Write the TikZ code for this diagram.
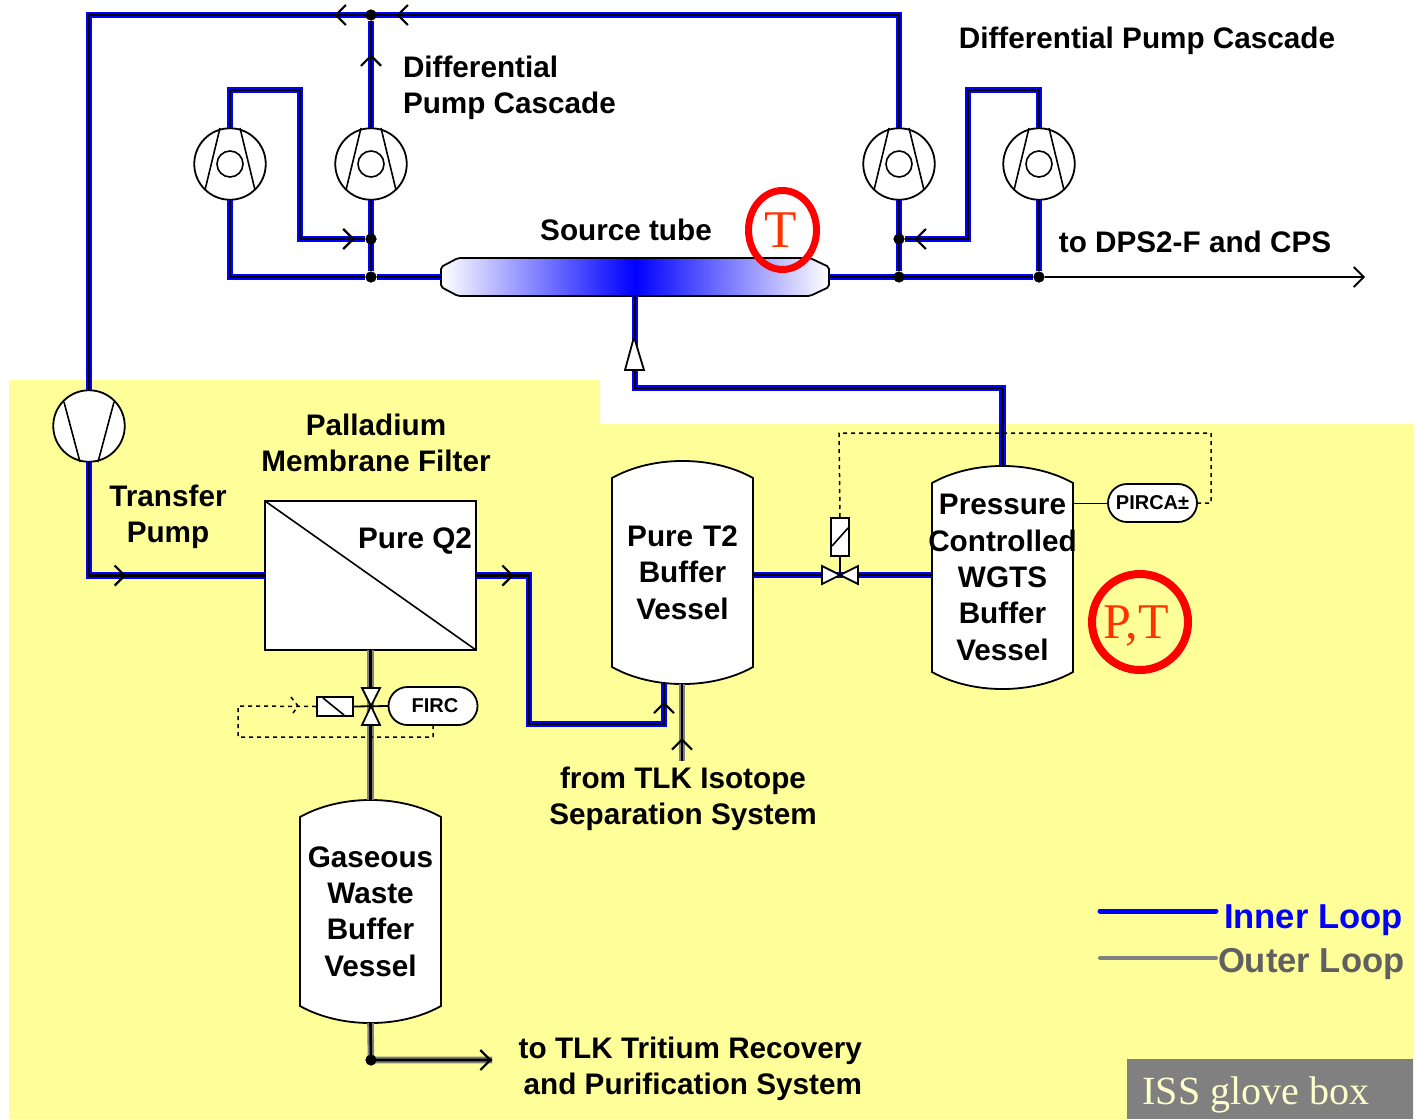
\documentclass[tikz,border=0pt]{standalone}
\usepackage{fontspec}
\setmainfont{Liberation Sans}
\newfontfamily\timesfont{Liberation Serif}
\usepackage{tikz}
\usetikzlibrary{arrows.meta, shapes.misc, shapes.geometric, positioning, calc, decorations.markings}
\definecolor{BoxYellow}{RGB}{255, 255, 153}
\definecolor{LoopBlue}{RGB}{0, 0, 255}
\definecolor{LoopGray}{RGB}{128, 128, 128}
\definecolor{LabelGray}{RGB}{96, 96, 96}
\definecolor{MarkRed}{RGB}{255, 0, 0}
\definecolor{MarkOrange}{RGB}{255, 51, 0}
\definecolor{BoxText}{RGB}{255, 255, 204}

% tank with domed ends and its label
\newcommand{\vessel}[5]{
	\draw[part, fill=white] (#2-70.5,#3+17) .. controls (#2-30,#3-5.7) and (#2+30,#3-5.7) .. (#2+70.5,#3+17)
		-- (#2+70.5,#4-17) .. controls (#2+30,#4+5.7) and (#2-30,#4+5.7) .. (#2-70.5,#4-17) -- cycle;
	\node[lbl, text width=141pt, minimum height=#4pt-#3pt] (#1) at (#2,#3/2+#4/2) {#5};
}

\begin{document}
\begin{tikzpicture}[x=1pt, y=-1pt,
	lbl/.style={font=\fontsize{29.7}{36.3}\selectfont\bfseries, align=center, inner sep=0pt, outer sep=0pt},
	part/.style={draw=black, line width=1.8pt},
	pumpbody/.style={circle, draw=black, line width=1.8pt, fill=white, minimum size=71.5pt, inner sep=0pt, outer sep=0pt},
	hub/.style={circle, draw=black, line width=1.6pt, minimum size=26pt, inner sep=0pt},
	dot/.style={circle, fill=black, minimum size=11pt, inner sep=0pt},
	inpipe/.style={draw=LoopBlue, double=black, double distance=2.6pt, line width=2.1pt},
	outpipe/.style={draw=LoopGray, double=black, double distance=2.6pt, line width=2pt},
	pill/.style={rounded rectangle, draw=black, line width=1.8pt, fill=white, inner sep=0pt, outer sep=0pt,
		minimum height=38pt, font=\fontsize{20}{24}\selectfont\bfseries},
	signal/.style={black, line width=1.5pt, dash pattern=on 4pt off 4pt},
	chevat/.style={postaction={decorate, decoration={markings, mark=at position #1 with
		{\arrow[black]{Straight Barb[length=10pt, width=20pt, line width=2.2pt]}}}}},
	ring/.style={draw=MarkRed, inner sep=0pt}]

	\useasboundingbox (0,0) rectangle (1418,1119);
	\fill[BoxYellow] (9,380) -- (600,380) -- (600,424) -- (1414,424) -- (1414,1119) -- (9,1119) -- cycle;
	\node[fill=LoopGray, minimum width=286pt, minimum height=60pt, inner sep=0pt] (boxtag) at (1270,1089) {};
	\node[font=\timesfont\fontsize{40}{44}\selectfont, text=BoxText, inner sep=0pt] (boxname) at (1256,1095) {ISS glove box};

	% pumps
	\foreach \n/\x in {pa/230, pb/371, pc/899, pd/1039} {
		\node[pumpbody] (\n) at (\x,164) {};
		\node[hub] (\n hub) at (\n) {};
		\draw[line width=1.6pt] (\x-10,128) -- (\x-25,190) (\x+10,128) -- (\x+25,190);
	}
	\node[pumpbody] (tp) at (89,426) {};
	\draw[line width=1.6pt] (64,402) -- (80,462) (114,402) -- (98,462);

	% equipment
	\draw[part, rounded corners=2pt, left color=white, right color=white, middle color=LoopBlue]
		(458,258) -- (810,258) -- (829,267) -- (829,287) -- (810,296) -- (458,296) -- (441,287) -- (441,267) -- cycle;
	\node[minimum width=388pt, minimum height=38pt, inner sep=0pt, outer sep=0pt] (tube) at (635,277) {};
	\node[draw=black, line width=1.8pt, fill=white, minimum width=211pt, minimum height=149pt,
		inner sep=0pt, outer sep=0pt] (filter) at (370.5,575.5) {};
	\draw[line width=1.6pt] (filter.north west) -- (filter.south east);
	\vessel{vt}{682.5}{461}{684}{Pure T2\\Buffer\\Vessel}
	\vessel{wt}{1002.5}{466}{689}{Pressure\\\makebox[0pt]{Controlled}\\WGTS\\Buffer\\Vessel}
	\vessel{gt}{370.5}{800}{1023}{Gaseous\\Waste\\Buffer\\Vessel}

	% junctions
	\node[dot] (jtop) at (371,15) {};
	\node[dot] (ja) at (371,239) {};
	\node[dot] (jb) at (371,277) {};
	\node[dot] (jc) at (899,239) {};
	\node[dot] (jd) at (899,277) {};
	\node[dot] (je) at (1039,277) {};
	\node[dot] (jw) at (371,1060) {};
	\coordinate (vvh) at (840,575);
	\coordinate (vvg) at (371,706);
	\coordinate (vtin) at (664,683);
	\coordinate (vtext) at (682,684);
	\coordinate (isoin) at (682,761);
	\coordinate (wasteout) at (492,1060);
	\coordinate (dpsout) at (1365,277);

	% inner loop
	\draw[inpipe, chevat=616pt, chevat=678pt] (pc.north) -- (899,15) -- (89,15) -- (tp.north);
	\draw[inpipe, chevat=74pt] (pb.north) -- (jtop);
	\draw[inpipe, chevat=312pt] (pa.north) -- (230,90) -- (300,90) -- (300,239) -- (ja);
	\draw[inpipe] (pa.south) -- (230,277) -- (jb);
	\draw[inpipe] (pb.south) -- (jb);
	\draw[inpipe] (jb) -- (tube.west);
	\draw[inpipe] (tube.east) -- (je);
	\draw[inpipe] (pc.south) -- (jd);
	\draw[inpipe] (pd.south) -- (je);
	\draw[inpipe, chevat=312pt] (pd.north) -- (1039,90) -- (968,90) -- (968,239) -- (jc);
	\draw[inpipe] (tube.south) |- (1002.5,388) -- (wt.north);
	\draw[inpipe, chevat=151pt] (tp.south) -- (89,575.5) -- (filter.west);
	\draw[inpipe, chevat=38pt, chevat=359pt] (filter.east) -- (529,575.5) -- (529,724) -- (664,724) -- (vtin);
	\draw[inpipe] (vvh -| vt.east) -- (932,575);
	\draw[black, line width=1.4pt, -{Straight Barb[length=10pt, width=20pt, line width=1.8pt]}] (je) -- (dpsout);

	% outer loop
	\draw[outpipe] (filter.south) -- (gt.north);
	\draw[outpipe, chevat=23pt] (isoin) -- (vtext);
	\draw[outpipe, chevat=0.999] (gt.south) -- (371,1060) -- (wasteout);

	% re-drawn dots over the pipes
	\foreach \j in {jtop, ja, jb, jc, jd, je, jw}
		\fill (\j) circle (5.5pt);

	% check valve
	\draw[part, fill=white] (634,337) -- (625,370) -- (644,370) -- cycle;

	% valve with controller on the buffer line
	\node[pill, minimum width=89pt] (pirca) at (1152.5,503) {PIRCA±};
	\node[draw=black, line width=1.8pt, fill=white, minimum width=18pt, minimum height=38pt,
		inner sep=0pt, outer sep=0pt] (vact) at (840,537) {};
	\draw[line width=1.6pt] ($(vact.south west)+(1,-10)$) -- ($(vact.north east)+(-1,10)$);
	\draw[line width=1.8pt] (vact.south) -- (vvh);
	\draw[part, fill=white] (vvh) -- ++(-18,-9) -- ++(0,18) -- cycle (vvh) -- ++(18,-9) -- ++(0,18) -- cycle;
	\draw[line width=1pt] (wt.east |- pirca) -- (pirca.west);
	\draw[signal] (pirca.east) -- (1211,503) -- (1211,433) -- (839,433) -- (vact.north);

	% valve with controller on the waste line
	\node[pill, minimum width=89pt] (firc) at (433,706) {\hspace{4pt}FIRC};
	\node[draw=black, line width=1.8pt, fill=white, minimum width=36pt, minimum height=19pt,
		inner sep=0pt, outer sep=0pt] (gact) at (335,706.5) {};
	\draw[line width=1.6pt] ($(gact.north west)+(6,1)$) -- ($(gact.south east)+(-9,-1)$);
	\draw[line width=1.8pt] (gact.east) -- (firc.west);
	\draw[part, fill=white] (vvg) -- ++(-9,-18) -- ++(18,0) -- cycle (vvg) -- ++(-9,19) -- ++(18,0) -- cycle;
	\draw[signal] (firc.south) -- (433,737) -- (238,737) -- (238,706) -- (gact.west);
	\draw[signal] (291,697) -- (298,706) -- (291,716);

	% labels
	\node[lbl, align=left, anchor=west] (dpleft) at (403,88) {Differential\\Pump Cascade};
	\node[lbl] (dpright) at (1147,41) {Differential Pump Cascade};
	\node[lbl] (srclbl) at (626,230) {Source tube};
	\node[lbl] (dpslbl) at (1195,242) {to DPS2-F and CPS};
	\node[lbl] (pdlbl) at (376,443) {Palladium\\Membrane Filter};
	\node[lbl] (tplbl) at (168,517) {Transfer\\Pump};
	\node[lbl, anchor=east] (q2lbl) at (472,541) {Pure Q2};
	\node[lbl] (isolbl) at (683,799) {from TLK Isotope\\Separation System};
	\node[lbl, align=right, anchor=east] (trilbl) at (862,1069) {to TLK Tritium Recovery\\and Purification System};

	% measuring points
	\node[ellipse, ring, line width=7pt, minimum width=68pt, minimum height=79pt] (tmark) at (782.5,230) {};
	\node[font=\timesfont\fontsize{53}{56}\selectfont, text=MarkOrange, inner sep=0pt] (tmarktext) at (781,230) {T};
	\node[circle, ring, line width=8pt, minimum size=96pt] (ptmark) at (1140,622) {};
	\node[font=\timesfont\fontsize{50}{54}\selectfont, text=MarkOrange, inner sep=0pt] (ptmarktext) at (1136,626) {P,T};

	% legend
	\node[lbl, font=\fontsize{34.6}{40}\selectfont\bfseries, text=LoopBlue, anchor=west] (innerlbl) at (1224,920) {Inner Loop};
	\node[lbl, font=\fontsize{34.6}{40}\selectfont\bfseries, text=LabelGray, anchor=west] (outerlbl) at (1218,964) {Outer Loop};
	\coordinate (innerkey) at (1100,911);
	\coordinate (innerend) at (1216,911);
	\coordinate (outerkey) at (1100,958);
	\coordinate (outerend) at (1216,958);
	\draw[LoopBlue, line width=5pt, line cap=round] (innerkey) -- (innerend);
	\draw[LoopGray, line width=4pt, line cap=round] (outerkey) -- (outerend);
\end{tikzpicture}
\end{document}
